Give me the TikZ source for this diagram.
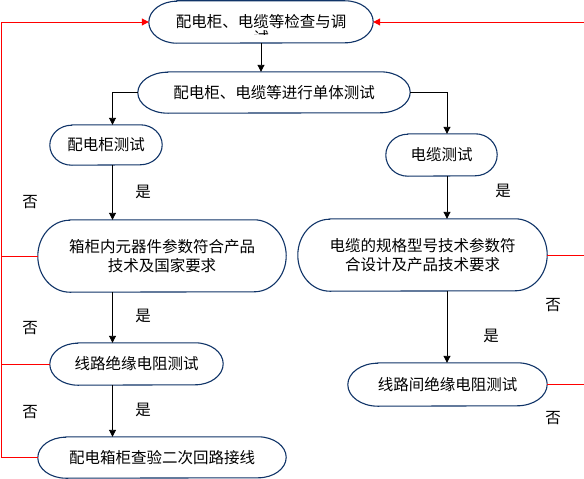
\documentclass[tikz,border=0pt]{standalone}
\usepackage{fontspec}
\newfontfamily\cjk{Noto Sans CJK SC}
\usetikzlibrary{arrows.meta,calc}
\definecolor{boxblue}{RGB}{16,52,104}
\tikzset{
  boxnode/.style={draw=none,inner sep=0pt,align=center,font=\cjk\fontsize{15.5}{19}\selectfont},
  capline/.style={draw=boxblue,line width=1.1pt},
  arr/.style={draw=black,line width=0.9pt,-{Triangle[length=7pt,width=7pt]}},
  rline/.style={draw=red,line width=1pt},
  rarr/.style={draw=red,line width=1pt,-{Triangle[length=7pt,width=7pt]}},
  lbl/.style={inner sep=0pt,font=\cjk\fontsize{15.5}{19}\selectfont}
}
\newcommand\capsule[3]{\draw[capline] ($(#1.north west)+(#2pt,0pt)$) -- ($(#1.north east)+(-#2pt,0pt)$) arc[start angle=90,end angle=-90,x radius=#2pt,y radius=#3pt] -- ($(#1.south west)+(#2pt,0pt)$) arc[start angle=270,end angle=90,x radius=#2pt,y radius=#3pt] -- cycle;}
\begin{document}
\begin{tikzpicture}[x=1pt,y=-1pt]
\useasboundingbox (0,0) rectangle (584,479);
\clip (0,0) rectangle (584,479);
\fill[white] (0,0) rectangle (584,479);
% nodes
\node[boxnode,minimum width=224pt,minimum height=42pt] (n1) at (261,22) {\raisebox{2pt}{配电柜、电缆等检查与调}};
\begin{scope}
\clip (150,0) rectangle (372,34);
\node[lbl] (n1b) at (261,38) {试};
\end{scope}
\node[boxnode,minimum width=272pt,minimum height=41pt] (n2) at (274,92.5) {配电柜、电缆等进行单体测试};
\node[boxnode,minimum width=112pt,minimum height=40pt] (n3) at (106,145) {配电柜测试};
\node[boxnode,minimum width=111pt,minimum height=42pt] (n4) at (441.5,155) {电缆测试};
\node[boxnode,minimum width=248pt,minimum height=72pt] (n5) at (162,256) {箱柜内元器件参数符合产品\\技术及国家要求};
\node[boxnode,minimum width=249pt,minimum height=72pt] (n6) at (422.5,255) {电缆的规格型号技术参数符\\合设计及产品技术要求};
\node[boxnode,minimum width=173pt,minimum height=42pt] (n7) at (136.5,364) {线路绝缘电阻测试};
\node[boxnode,minimum width=199pt,minimum height=43pt] (n8) at (447.5,384.5) {线路间绝缘电阻测试};
\node[boxnode,minimum width=248pt,minimum height=41pt] (n9) at (162,457.5) {配电箱柜查验二次回路接线};
\capsule{n1}{28}{21}
\capsule{n2}{30}{20.5}
\capsule{n3}{22}{20}
\capsule{n4}{22}{21}
\capsule{n5}{32}{36}
\capsule{n6}{32}{36}
\capsule{n7}{28}{21}
\capsule{n8}{30}{21.5}
\capsule{n9}{28}{20.5}
% helper coordinates
\coordinate (cl) at (112.5,0);
\coordinate (cr) at (447,0);
\coordinate (L) at (1.5,0);
\coordinate (R) at (587,0);
% black arrows
\draw[arr] (n1.south) -- (n2.north -| n1.south);
\draw[arr] (n2.west) -| (n3.north -| cl);
\draw[arr] (n2.east) -| (n4.north -| cr);
\draw[arr] (n3.south -| cl) -- (n5.north -| cl);
\draw[arr] (n5.south -| cl) -- (n7.north -| cl);
\draw[arr] (n7.south -| cl) -- (n9.north -| cl);
\draw[arr] (n4.south -| cr) -- (n6.north -| cr);
\draw[arr] (n6.south -| cr) -- (n8.north -| cr);
% red feedback lines
\draw[rarr] (n9.west -| L) |- (n1.west);
\draw[rline] (n9.west) -- (n9.west -| L);
\draw[rline] (n7.west) -- (n7.west -| L);
\draw[rline] (n5.west) -- (n5.west -| L);
\draw[rarr] (n8.east -| R) |- (n1.east);
\draw[rline] (n8.east) -- (n8.east -| R);
\draw[rline] (n6.east) -- (n6.east -| R);
% labels
\node[lbl] (y1) at (143,192) {是};
\node[lbl] (y2) at (143,316) {是};
\node[lbl] (y3) at (143,410) {是};
\node[lbl] (y4) at (503,191) {是};
\node[lbl] (y5) at (491,336) {是};
\node[lbl] (f1) at (30,202) {否};
\node[lbl] (f2) at (30,328) {否};
\node[lbl] (f3) at (30,412) {否};
\node[lbl] (f4) at (553,305) {否};
\node[lbl] (f5) at (553,418) {否};
\end{tikzpicture}
\end{document}
